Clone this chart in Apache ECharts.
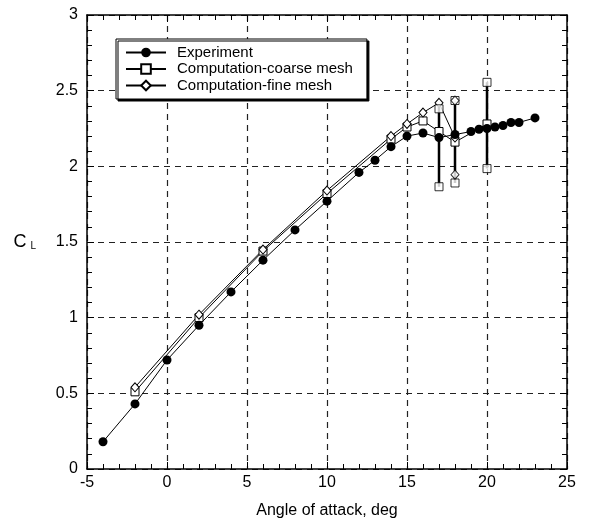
<!DOCTYPE html>
<html>
<head>
<meta charset="utf-8">
<script src="https://cdn.jsdelivr.net/npm/echarts@6/dist/echarts.min.js"></script>
<style>
html, body { margin: 0; padding: 0; background: #fff; }
#chart { width: 589px; height: 530px; }
</style>
</head>
<body>
<div id="chart"></div>
<script>
var FONT = '"Liberation Sans", Arial, sans-serif';

// experiment
var expAlpha = [-4, -2, 0, 2, 4, 6, 8, 10, 12, 13, 14, 15, 16, 17, 18, 19, 19.5, 20, 20.5, 21, 21.5, 22, 23];
var expCL = [0.18, 0.43, 0.72, 0.95, 1.17, 1.38, 1.58, 1.77, 1.96, 2.04, 2.13, 2.20, 2.22, 2.19, 2.21, 2.23, 2.245, 2.25, 2.26, 2.27, 2.29, 2.29, 2.32];
// computation, coarse mesh
var coarseAlpha = [-2, 2, 6, 10, 14, 15, 16, 17, 18, 20];
var coarseCL = [0.51, 1.00, 1.44, 1.82, 2.18, 2.26, 2.30, 2.23, 2.16, 2.28];
// computation, fine mesh
var fineAlpha = [-2, 2, 6, 10, 14, 15, 16, 17, 18];
var fineCL = [0.54, 1.02, 1.45, 1.84, 2.20, 2.28, 2.355, 2.42, 2.19];
// unsteady oscillation range
var rangeAlpha = [17, 18, 20];
var rangeMax = [2.42, 2.435, 2.555];
var rangeMin = [1.865, 1.89, 1.985];
var coarseExtraAlpha = [17, 17, 18, 18, 20, 20];
var coarseExtraCL = [2.38, 1.865, 2.435, 1.89, 2.555, 1.985];
var fineExtraAlpha = [18, 18];
var fineExtraCL = [2.435, 1.945];

function pairs(xs, ys) {
    return xs.map(function (x, i) { return [x, ys[i]]; });
}

var chart = echarts.init(document.getElementById('chart'));

function mkAxis(pos, min, max, interval, showLabel) {
    return {
        type: 'value',
        position: pos,
        min: min, max: max, interval: interval,
        axisLine: { show: true, onZero: false, lineStyle: { color: '#000', width: 1.5 } },
        axisTick: { show: true, inside: true, length: 7, lineStyle: { color: '#000', width: 1 } },
        minorTick: { show: true, splitNumber: 5, length: 5, lineStyle: { color: '#000', width: 1 } },
        axisLabel: { show: showLabel, color: '#000', fontSize: 16, fontFamily: FONT },
        splitLine: { show: showLabel, lineStyle: { color: '#222', width: 1.2, type: [6, 5] } }
    };
}

var xBottom = mkAxis('bottom', -5, 25, 5, true);
xBottom.axisLabel.margin = 6;
xBottom.name = 'Angle of attack, deg';
xBottom.nameLocation = 'middle';
xBottom.nameGap = 34;
xBottom.nameTextStyle = { color: '#000', fontSize: 16, fontFamily: FONT };
var xTop = mkAxis('top', -5, 25, 5, false);

var yLeft = mkAxis('left', 0, 3, 0.5, true);
yLeft.axisLabel.margin = 9;
yLeft.name = '{c|C}{l|L}';
yLeft.nameLocation = 'middle';
yLeft.nameRotate = 0;
yLeft.nameGap = 51;
yLeft.nameTextStyle = {
    color: '#000', fontFamily: FONT,
    rich: {
        c: { fontSize: 18, fontFamily: FONT, color: '#000', lineHeight: 20 },
        l: { fontSize: 10, fontFamily: FONT, color: '#000', lineHeight: 20, padding: [9, 0, 0, 4] }
    }
};
var yRight = mkAxis('right', 0, 3, 0.5, false);

var series = [];
rangeAlpha.forEach(function (a, i) {
    series.push({
        type: 'line', xAxisIndex: 0, yAxisIndex: 0,
        data: [[a, rangeMax[i]], [a, rangeMin[i]]],
        symbol: 'none', lineStyle: { color: '#000', width: 2.5 }, z: 2, silent: true
    });
});
series.push({
    name: 'Experiment', type: 'line', data: pairs(expAlpha, expCL),
    symbol: 'circle', symbolSize: 9,
    itemStyle: { color: '#000' }, lineStyle: { color: '#000', width: 1 }, z: 4
});
series.push({
    name: 'Computation-coarse mesh', type: 'line', data: pairs(coarseAlpha, coarseCL),
    symbol: 'rect', symbolSize: 8,
    itemStyle: { color: '#fff', borderColor: '#000', borderWidth: 1 },
    lineStyle: { color: '#000', width: 1 }, z: 3
});
series.push({
    name: 'Computation-fine mesh', type: 'line', data: pairs(fineAlpha, fineCL),
    symbol: 'diamond', symbolSize: [8, 9],
    itemStyle: { color: '#fff', borderColor: '#000', borderWidth: 1 },
    lineStyle: { color: '#000', width: 1 }, z: 3
});
series.push({
    type: 'scatter', data: pairs(coarseExtraAlpha, coarseExtraCL),
    symbol: 'rect', symbolSize: 8,
    itemStyle: { color: '#fff', borderColor: '#000', borderWidth: 1 }, z: 3
});
series.push({
    type: 'scatter', data: pairs(fineExtraAlpha, fineExtraCL),
    symbol: 'diamond', symbolSize: [8, 9],
    itemStyle: { color: '#fff', borderColor: '#000', borderWidth: 1 }, z: 3
});

var option = {
    animation: false,
    backgroundColor: '#fff',
    grid: { left: 87, right: 22, top: 15, bottom: 61, containLabel: false },
    legend: {
        data: ['Experiment', 'Computation-coarse mesh', 'Computation-fine mesh'],
        orient: 'vertical',
        left: 116, top: 39,
        padding: [6, 14, 6, 9],
        itemWidth: 40, itemHeight: 12, itemGap: 1.5,
        backgroundColor: '#fff',
        borderColor: '#000', borderWidth: 1,
        shadowColor: '#000', shadowBlur: 0, shadowOffsetX: 2, shadowOffsetY: 2,
        textStyle: { color: '#000', fontSize: 15, fontFamily: FONT, padding: [0, 0, 0, 6] }
    },
    xAxis: [xBottom, xTop],
    yAxis: [yLeft, yRight],
    series: series
};
chart.setOption(option);
</script>
</body>
</html>
